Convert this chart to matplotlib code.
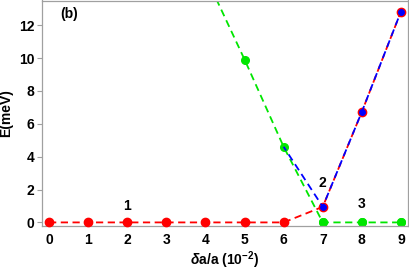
import matplotlib
matplotlib.use("Agg")
import matplotlib.pyplot as plt

x_red = [0, 1, 2, 3, 4, 5, 6, 7, 8, 9]
y_red = [0, 0, 0, 0, 0, 0, 0, 0.95, 6.73, 12.83]
x_blue = [6, 7, 8, 9]
y_blue = [4.6, 0.95, 6.73, 12.83]
x_green = [4, 5, 6, 7, 8, 9]
y_green = [15.0, 9.91, 4.6, 0, 0, 0]
labels = ["1", "2", "3"]
label_x = [2, 7, 8]
label_y = [0.55, 1.95, 0.7]
xticks = list(range(10))
yticks = [0, 2, 4, 6, 8, 10, 12]

plt.rcParams['font.family'] = ['Liberation Sans', 'DejaVu Sans']
plt.rcParams['mathtext.fontset'] = 'custom'
plt.rcParams['mathtext.rm'] = 'Liberation Sans:bold'
plt.rcParams['mathtext.it'] = 'Liberation Sans:bold:italic'
plt.rcParams['mathtext.bf'] = 'Liberation Sans:bold'
fig = plt.figure(figsize=(4.09, 2.75), dpi=100)
ax = fig.add_axes([42/409, 1-225.7/275, (408-42)/409, 225.2/275])

red = '#ff0000'
blue = '#0000ff'
green = '#00e600'
fs = 10

ax.plot(x_red, y_red, color=red, ls=(0, (4, 2.5)), lw=1.3, marker='o', ms=6, zorder=3, clip_on=False)
ax.plot(x_green, y_green, color=green, ls=(0, (4, 2.5)), lw=1.3, marker='o', ms=5.5, zorder=2, clip_on=True)
ax.plot(x_blue, y_blue, color=blue, ls=(1.5, (4, 2.5)), lw=1.3, zorder=4)
ax.plot(x_blue[1:], y_blue[1:], color=blue, ls='none', marker='o', ms=4, zorder=5)
ax.plot(x_green[3:], y_green[3:], color=green, ls='none', marker='o', ms=5.5, zorder=2, clip_on=False)

for t, lx, ly in zip(labels, label_x, label_y):
    ax.text(lx, ly, t, ha='center', va='bottom', fontsize=fs, fontweight='bold')

ax.text(0.05, 0.97, '(b)', transform=ax.transAxes, ha='left', va='top', fontsize=fs, fontweight='bold')

ax.set_xlim(-0.18, 9.18)
ax.set_ylim(-0.2, 13.5)
ax.set_xticks(xticks)
ax.set_yticks(yticks)
ax.tick_params(axis='x', length=0, pad=5, labelsize=fs)
ax.tick_params(axis='y', length=3.5, width=0.8, color='#a0a0a0', pad=2, labelsize=fs)
for lab in ax.get_xticklabels() + ax.get_yticklabels():
    lab.set_fontweight('bold')
for s in ax.spines.values():
    s.set_color('#a0a0a0')
    s.set_linewidth(0.9)

ax.set_xlabel(r'$\delta$a/a (10$^{-2}$)', fontsize=fs, fontweight='bold', labelpad=2)
ax.set_ylabel('E(meV)', fontsize=fs, fontweight='bold', labelpad=4)

fig.savefig('out.png', dpi=100)
